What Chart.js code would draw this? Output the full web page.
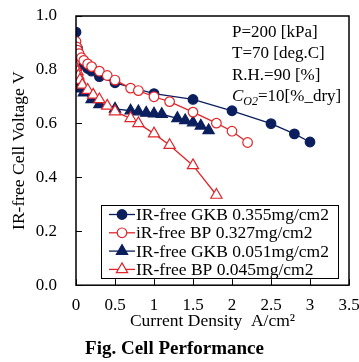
<!DOCTYPE html>
<html>
<head>
<meta charset="utf-8">
<script src="https://cdn.jsdelivr.net/npm/chart.js@4/dist/chart.umd.min.js"></script>
<style>
    html, body { margin: 0; padding: 0; background: #fff; }
    #wrap { width: 359px; height: 362px; }
</style>
</head>
<body>
<div id="wrap"><canvas id="__chart_perf"></canvas></div>
<script>

/**
 * data
 */

const seriesLabels = [
    'IR-free GKB 0.355mg/cm2',
    'iR-free BP 0.327mg/cm2',
    'IR-free GKB 0.051mg/cm2',
    'IR-free BP 0.045mg/cm2'
];

const gkbHighCurrent = [ 0, 0.02, 0.05, 0.1, 0.15, 0.2, 0.3, 0.5, 1.0, 1.5, 2.0, 2.5, 2.8, 3.0 ];
const gkbHighVoltage = [ 0.94, 0.88, 0.85, 0.82, 0.805, 0.795, 0.775, 0.752, 0.712, 0.69, 0.648, 0.6, 0.562, 0.532 ];

const bpHighCurrent = [ 0, 0.01, 0.02, 0.04, 0.07, 0.1, 0.15, 0.2, 0.3, 0.4, 0.5, 0.7, 0.8, 1.0, 1.2, 1.5, 1.8, 2.0, 2.2 ];
const bpHighVoltage = [ 0.905, 0.885, 0.873, 0.86, 0.845, 0.835, 0.822, 0.812, 0.795, 0.779, 0.762, 0.732, 0.723, 0.70, 0.682, 0.643, 0.602, 0.572, 0.53 ];

const gkbLowCurrent = [ 0, 0.01, 0.02, 0.05, 0.1, 0.2, 0.3, 0.5, 0.7, 0.8, 0.9, 1.0, 1.1, 1.3, 1.4, 1.5, 1.6, 1.7 ];
const gkbLowVoltage = [ 0.79, 0.765, 0.745, 0.73, 0.715, 0.69, 0.672, 0.655, 0.648, 0.645, 0.64, 0.637, 0.635, 0.62, 0.612, 0.604, 0.592, 0.575 ];

const bpLowCurrent = [ 0, 0.02, 0.03, 0.05, 0.08, 0.15, 0.22, 0.3, 0.4, 0.5, 0.7, 0.8, 1.0, 1.2, 1.5, 1.8 ];
const bpLowVoltage = [ 0.81, 0.793, 0.778, 0.762, 0.744, 0.725, 0.707, 0.69, 0.666, 0.645, 0.62, 0.601, 0.563, 0.52, 0.445, 0.335 ];

const xTickLabels = [ '0', '0.5', '1', '1.5', '2', '2.5', '3', '3.5' ];
const yTickLabels = [ '0.0', '0.2', '0.4', '0.6', '0.8', '1.0' ];

const conditionLines = [ 'P=200 [kPa]', 'T=70 [deg.C]', 'R.H.=90 [%]' ];
const oxygenLine = [ 'C', 'O2', '=10[%_dry]' ];

const NAVY = '#0b1f5e';
const RED = '#e0262b';
const SERIF = '"Liberation Serif", "Times New Roman", serif';

document.addEventListener( 'DOMContentLoaded', function () {

    let chart = document.getElementById( '__chart_perf' );

    if( chart ) {

        let ctx = chart.getContext( '2d' );

        const pts = ( xs, ys ) => xs.map( ( x, i ) => ( { x: x, y: ys[ i ] } ) );

        /**
         * frame round the plot, legend box and condition text
         */

        const extras = {
            id: 'extras',
            afterDatasetsDraw: ( c ) => {

                const g = c.ctx;
                const a = c.chartArea;

                g.save();
                g.strokeStyle = '#000';
                g.lineWidth = 1.5;
                g.strokeRect( a.left, a.top, a.right - a.left, a.bottom - a.top );

                // legend
                const box = { l: 101, t: 205, r: 338, b: 278 };
                g.fillStyle = '#fff';
                g.fillRect( box.l, box.t, box.r - box.l, box.b - box.t );
                g.lineWidth = 1;
                g.strokeRect( box.l + 0.5, box.t + 0.5, box.r - box.l, box.b - box.t );

                c.data.datasets.forEach( ( ds, i ) => {

                    const y = 214.5 + i * 18.3;

                    g.strokeStyle = ds.borderColor;
                    g.lineWidth = ds.borderWidth;
                    g.beginPath();
                    g.moveTo( 109, y );
                    g.lineTo( 135, y );
                    g.stroke();

                    g.fillStyle = ds.pointBackgroundColor;
                    g.lineWidth = ds.pointBorderWidth;
                    g.beginPath();
                    if( ds.pointStyle === 'triangle' ) {
                        const r = ds.pointRadius;
                        for( let k = 0; k < 3; k++ ) {
                            const ang = k * 2 * Math.PI / 3;
                            g.lineTo( 122 + Math.sin( ang ) * r, y - Math.cos( ang ) * r );
                        }
                        g.closePath();
                    } else {
                        g.arc( 122, y, ds.pointRadius, 0, Math.PI * 2 );
                    }
                    g.fill();
                    g.stroke();

                    g.fillStyle = '#000';
                    g.font = '17.5px ' + SERIF;
                    g.textAlign = 'left';
                    g.textBaseline = 'middle';
                    g.fillText( ds.label, 136, y + 1 );

                } );

                // conditions
                g.fillStyle = '#000';
                g.textAlign = 'left';
                g.textBaseline = 'alphabetic';
                g.font = '17px ' + SERIF;
                conditionLines.forEach( ( t, i ) => {
                    g.fillText( t, 232, 37 + i * 21.3 );
                } );

                let x = 232;
                const yb = 101;
                g.font = 'italic 17px ' + SERIF;
                g.fillText( oxygenLine[0], x, yb );
                x += g.measureText( oxygenLine[0] ).width;
                g.font = 'italic 12px ' + SERIF;
                g.fillText( oxygenLine[1], x, yb + 4 );
                x += g.measureText( oxygenLine[1] ).width;
                g.font = '17px ' + SERIF;
                g.fillText( oxygenLine[2], x, yb );

                g.restore();

            }
        };

        const line = ( label, xs, ys, style, filled, color, radius, order ) => ( {
            label: label,
            data: pts( xs, ys ),
            order: order,
            borderColor: color,
            borderWidth: 1.3,
            lineTension: 0,
            pointStyle: style,
            pointRadius: radius,
            pointHoverRadius: radius,
            pointBorderWidth: 1.2,
            pointBorderColor: color,
            pointBackgroundColor: filled ? color : '#fff'
        } );

        new Chart( ctx, {
            type: 'line',
            data: {
                datasets: [
                    line( seriesLabels[0], gkbHighCurrent, gkbHighVoltage, 'circle', true, NAVY, 4.8, 4 ),
                    line( seriesLabels[1], bpHighCurrent, bpHighVoltage, 'circle', false, RED, 4.8, 2 ),
                    line( seriesLabels[2], gkbLowCurrent, gkbLowVoltage, 'triangle', true, NAVY, 6.5, 3 ),
                    line( seriesLabels[3], bpLowCurrent, bpLowVoltage, 'triangle', false, RED, 6.5, 1 )
                ]
            },
            options: {
                responsive: true,
                maintainAspectRatio: false,
                animation: false,
                layout: {
                    padding: { top: 16, right: 10, left: 0, bottom: 0 }
                },
                plugins: {
                    legend: { display: false },
                    tooltip: { enabled: false },
                    title: {
                        display: true,
                        position: 'bottom',
                        text: 'Fig. Cell Performance',
                        color: '#000',
                        font: { family: SERIF, size: 19, weight: 'bold' },
                        padding: { top: 0, bottom: 2 }
                    }
                },
                scales: {
                    x: {
                        type: 'linear',
                        min: 0,
                        max: 3.5,
                        border: { display: false },
                        grid: {
                            drawOnChartArea: false,
                            color: '#000',
                            tickLength: -6,
                            tickWidth: 1
                        },
                        ticks: {
                            stepSize: 0.5,
                            padding: 16,
                            color: '#000',
                            font: { family: SERIF, size: 17 },
                            maxRotation: 0,
                            callback: ( value, index ) => xTickLabels[ index ]
                        },
                        title: {
                            display: true,
                            text: 'Current Density  A/cm\u00b2',
                            color: '#000',
                            font: { family: SERIF, size: 17.5 },
                            padding: { top: 0, bottom: 5 }
                        },
                        afterFit: ( scale ) => {
                            scale.height = 52;
                            scale.paddingLeft = 0;
                            scale.paddingRight = 0;
                        }
                    },
                    y: {
                        min: 0,
                        max: 1,
                        border: { display: false },
                        grid: {
                            drawOnChartArea: false,
                            color: '#000',
                            tickLength: -6,
                            tickWidth: 1
                        },
                        ticks: {
                            stepSize: 0.2,
                            padding: 25,
                            color: '#000',
                            font: { family: SERIF, size: 17 },
                            callback: ( value, index ) => yTickLabels[ index ]
                        },
                        title: {
                            display: true,
                            text: 'IR-free Cell Voltage V',
                            color: '#000',
                            font: { family: SERIF, size: 17.5 },
                            padding: { top: 9, bottom: 0 }
                        },
                        afterFit: ( scale ) => {
                            scale.width = 76;
                            scale.paddingTop = 0;
                            scale.paddingBottom = 0;
                        }
                    }
                }
            },
            plugins: [ extras ]
        } );

    }

} );
</script>
</body>
</html>
